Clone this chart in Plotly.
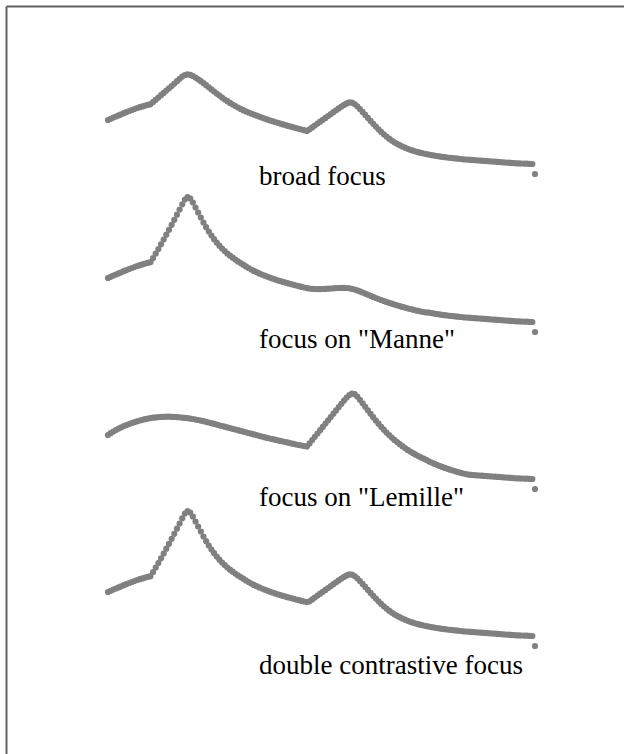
import plotly.graph_objects as go

# Time axis (s), 10 ms frames
time_s = [round(0.01 * i, 2) for i in range(162)]

# F0 segments (Hz)
onset = [156, 157.2, 158.4, 159.5, 160.6, 161.7, 162.8, 163.9, 165, 166, 167, 168,
         168.8, 169.6, 170.4, 171.1, 171.8]

broad_word1 = [174, 176.2, 178.5, 180.8, 183.1, 185.4, 187.7, 190, 192.4, 194.8, 197.2,
               199.5, 201, 201.7, 201.2, 200, 198.4, 196.7, 194.8, 192.8, 190.8, 188.7,
               186.6, 184.5, 182.4, 180.4, 178.4, 176.5, 174.8, 173.1, 171.5, 170, 168.5,
               167.1, 165.8, 164.6, 163.5, 162.4, 161.4, 160.4, 159.4, 158.4, 157.5, 156.6,
               155.7, 154.8, 154, 153.2, 152.4, 151.6, 150.8, 150, 149.3, 148.6, 147.9,
               147.2, 146.5, 145.8, 145]

manne_word1 = [176, 180.5, 185, 189.7, 194.5, 199.3, 204.2, 209.2, 214.2, 219.3, 224.5,
               229.7, 234.5, 236.8, 235.5, 231.5, 226.5, 221.5, 216.5, 211.5, 206.8, 202.5,
               198.5, 194.8, 191.4, 188.3, 185.5, 182.9, 180.5, 178.3, 176.3, 174.4, 172.6,
               170.9, 169.3, 167.6, 166, 164.5, 163.1, 161.8, 160.6, 159.5, 158.4, 157.4,
               156.4, 155.5, 154.6, 153.7, 152.9, 152.1, 151.3, 150.6, 149.9, 149.2, 148.5,
               147.8, 147.1, 146.5, 145.9]

lemille_word1 = [156, 157.8, 159.5, 161, 162.4, 163.7, 164.9, 166, 167, 168,
                 168.9, 169.7, 170.5, 171.2, 171.8, 172.4, 172.9, 173.3, 173.6, 173.9,
                 174.1, 174.2, 174.3, 174.3, 174.2, 174.1, 173.9, 173.7, 173.4, 173.1,
                 172.8, 172.4, 172, 171.5, 171, 170.4, 169.8, 169.2, 168.5, 167.8,
                 167.1, 166.4, 165.7, 165, 164.3, 163.6, 162.9, 162.2, 161.5, 160.8,
                 160.1, 159.4, 158.7, 158, 157.3, 156.6, 155.9, 155.2, 154.5, 153.8,
                 153.1, 152.5, 151.9, 151.3, 150.7, 150.1, 149.5, 148.9, 148.3, 147.7,
                 147.1, 146.5, 146, 145.5, 145, 144.5]

broad_word2 = [146.7, 148.6, 150.5, 152.4, 154.3, 156.2, 158.1, 160, 161.9, 163.8, 165.7,
               167.6, 169.4, 171.1, 172.6, 173.6, 173.4, 172, 169.7, 167, 164.1, 161.1,
               158.1, 155.1, 152.2, 149.4, 146.7, 144.1, 141.7, 139.4, 137.3, 135.4, 133.7,
               132.2, 130.8, 129.5, 128.3, 127.2, 126.2, 125.3, 124.5, 123.8, 123.1, 122.5,
               121.9]

manne_word2 = [145.5, 145.2, 145, 144.9, 144.9, 145, 145.1, 145.3, 145.5, 145.7, 145.9,
               146, 146.1, 146.1, 146, 145.7, 145.2, 144.5, 143.6, 142.6, 141.5, 140.4,
               139.3, 138.2, 137.1, 136, 135, 134, 133, 132.1, 131.2, 130.3, 129.5, 128.7,
               127.9, 127.1, 126.4, 125.7, 125, 124.3, 123.7, 123.1, 122.5, 122, 121.6]

lemille_word2 = [147.6, 150.9, 154.2, 157.5, 160.8, 164.1, 167.4, 170.7, 174, 177.3, 180.6,
                 183.9, 187.2, 190.4, 193.4, 196, 197.4, 196.8, 194.4, 191.2, 187.7, 184.2,
                 180.7, 177.2, 173.8, 170.5, 167.3, 164.2, 161.3, 158.5, 155.9, 153.4,
                 151.1, 148.9, 146.8, 144.8, 142.9, 141.1, 139.4, 137.8, 136.3, 134.9,
                 133.6, 132.4, 131.2, 129.7, 128.5, 127.3, 126.2, 125.1, 124.1, 123.1,
                 122.2, 121.3, 120.5, 119.7, 118.9, 118.2, 117.5, 116.9]

tail = [121.4, 120.9, 120.4, 120, 119.6, 119.2, 118.8, 118.5, 118.2, 117.9, 117.6, 117.3,
        117, 116.7, 116.5, 116.3, 116.1, 115.9, 115.7, 115.5, 115.3, 115.1, 114.9, 114.7,
        114.5, 114.3, 114.1, 113.9, 113.7, 113.5, 113.3, 113.1, 112.9, 112.7, 112.6, 112.5,
        112.4, 112.3, 112.2, 112, 102]

labels = ["broad focus", 'focus on "Manne"', 'focus on "Lemille"', "double contrastive focus"]

contours = [
    onset + broad_word1 + broad_word2 + tail,
    onset + manne_word1 + manne_word2 + tail,
    lemille_word1 + lemille_word2 + tail[15:],
    onset + manne_word1 + broad_word2 + tail,
]

W, H = 624, 754
row_top_px = [30, 188, 345, 502]
row_h_px = 150
label_y_px = [176, 339, 497, 665]
label_x_px = 257

fig = go.Figure()
layout = dict(
    width=W, height=H,
    margin=dict(l=0, r=0, t=0, b=0),
    paper_bgcolor="white", plot_bgcolor="white",
    showlegend=False,
)
for k, f0 in enumerate(contours):
    sfx = "" if k == 0 else str(k + 1)
    fig.add_trace(go.Scatter(
        x=time_s, y=f0, mode="markers",
        marker=dict(size=6.2, color="#808080", line=dict(width=0)),
        xaxis="x" + sfx, yaxis="y" + sfx, hoverinfo="skip",
    ))
    top = row_top_px[k]
    layout["xaxis" + sfx] = dict(domain=[0, 1], range=[-108 / 265.2, (W - 108) / 265.2],
                                 visible=False, anchor="y" + sfx, fixedrange=True)
    layout["yaxis" + sfx] = dict(domain=[1 - (top + row_h_px) / H, 1 - top / H],
                                 range=[96, 246], visible=False, anchor="x" + sfx,
                                 fixedrange=True)

fig.update_layout(**layout)

for k, txt in enumerate(labels):
    fig.add_annotation(
        x=label_x_px / W, y=1 - label_y_px[k] / H, xref="paper", yref="paper",
        text=txt, showarrow=False, xanchor="left", yanchor="middle",
        font=dict(family="Liberation Serif", size=27, color="black"),
    )

# frame (top and left edges visible)
fig.add_shape(type="line", xref="paper", yref="paper",
              x0=6.5 / W, x1=1.05, y0=1 - 6.5 / H, y1=1 - 6.5 / H,
              line=dict(color="#606060", width=2))
fig.add_shape(type="line", xref="paper", yref="paper",
              x0=6.5 / W, x1=6.5 / W, y0=1 - 6.5 / H, y1=-0.05,
              line=dict(color="#606060", width=2))

fig.write_html("out.html", config={"displayModeBar": False},
               post_script="document.body.style.margin='0px';document.body.style.padding='0px';")
